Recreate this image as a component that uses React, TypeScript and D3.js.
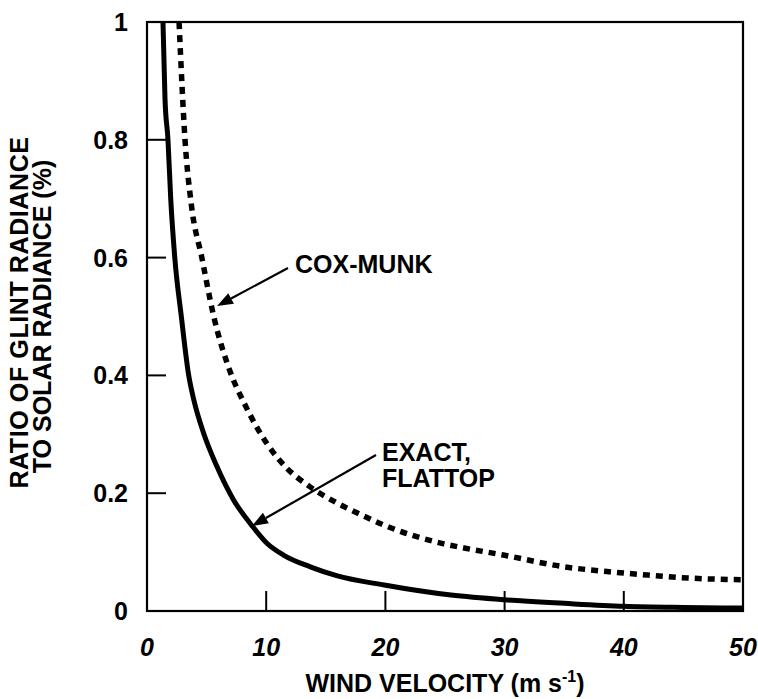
import React from "react";
import * as d3 from "d3";

// Wind velocity (m/s) and glint-to-solar radiance ratio (%) for the exact flattop model
const exactWind = [1.34, 1.51, 1.76, 1.99, 2.33, 2.88, 3.5, 3.92, 4.73, 5.85, 7.25, 8.8, 10.06, 11.45, 13.7, 15.9, 19.9, 25.5, 30, 35, 40, 45, 50];
const exactRatio = [1.0, 0.87, 0.8, 0.7, 0.6, 0.5, 0.4, 0.359, 0.303, 0.246, 0.189, 0.145, 0.115, 0.095, 0.075, 0.06, 0.044, 0.027, 0.019, 0.013, 0.008, 0.006, 0.005];

// Wind velocity (m/s) and ratio (%) for the Cox-Munk model
const coxWind = [2.69, 3.19, 3.72, 4.6, 5.6, 7.0, 8.2, 10.1, 11.7, 13.6, 15.7, 17.9, 20.1, 22.5, 24.9, 26.6, 29.9, 35, 38.6, 42, 45.4, 50];
const coxRatio = [1.0, 0.8, 0.69, 0.6, 0.5, 0.405, 0.351, 0.283, 0.243, 0.212, 0.186, 0.164, 0.144, 0.127, 0.114, 0.107, 0.095, 0.075, 0.067, 0.061, 0.056, 0.053];

const xTicks = [0, 10, 20, 30, 40, 50];
const yTicks = [0, 0.2, 0.4, 0.6, 0.8, 1];
const yTickLabels = ["0", "0.2", "0.4", "0.6", "0.8", "1"];

const W = 758;
const H = 699;
const left = 147;
const right = 743;
const top = 22;
const bottom = 611;
const FONT = "'Liberation Sans', Arial, Helvetica, sans-serif";

export default function App() {
  const x = d3.scaleLinear().domain([0, 50]).range([left, right]);
  const y = d3.scaleLinear().domain([0, 1]).range([bottom, top]);

  const line = d3
    .line<[number, number]>()
    .x((d) => x(d[0]))
    .y((d) => y(d[1]))
    .curve(d3.curveMonotoneX);

  const exactPts = exactWind.map((w, i) => [w, exactRatio[i]] as [number, number]);
  const coxPts = coxWind.map((w, i) => [w, coxRatio[i]] as [number, number]);

  const arrow = (x1: number, y1: number, x2: number, y2: number) => {
    const ang = Math.atan2(y2 - y1, x2 - x1);
    const len = 16;
    const half = 6;
    const bx = x2 - len * Math.cos(ang);
    const by = y2 - len * Math.sin(ang);
    const px = -Math.sin(ang) * half;
    const py = Math.cos(ang) * half;
    return (
      <g>
        <line x1={x1} y1={y1} x2={bx} y2={by} stroke="#000" strokeWidth={2.2} />
        <polygon points={`${x2},${y2} ${bx + px},${by + py} ${bx - px},${by - py}`} fill="#000" />
      </g>
    );
  };

  return (
    <svg
      width={W}
      height={H}
      style={{ position: "absolute", left: 0, top: 0, background: "#fff" }}
      fontFamily={FONT}
    >
      <defs>
        <clipPath id="plot">
          <rect x={left} y={top} width={right - left} height={bottom - top} />
        </clipPath>
      </defs>

      {/* frame */}
      <rect x={left} y={top} width={right - left} height={bottom - top} fill="none" stroke="#000" strokeWidth={2.2} />

      {/* y ticks */}
      {yTicks.map((t, i) => (
        <g key={"y" + i}>
          {t > 0 && t < 1 && <line x1={left} x2={left + 19} y1={y(t)} y2={y(t)} stroke="#000" strokeWidth={2} />}
          <text x={128} y={y(t) + 9} textAnchor="end" fontSize={25} fontWeight="bold">
            {yTickLabels[i]}
          </text>
        </g>
      ))}

      {/* x ticks */}
      {xTicks.map((t) => (
        <g key={"x" + t}>
          {t > 0 && t < 50 && <line x1={x(t)} x2={x(t)} y1={bottom} y2={bottom - 20} stroke="#000" strokeWidth={2} />}
          <text x={x(t)} y={656} textAnchor="middle" fontSize={25} fontWeight="bold" fontStyle="italic">
            {t}
          </text>
        </g>
      ))}

      {/* curves */}
      <g clipPath="url(#plot)">
        <path d={line(exactPts) ?? ""} fill="none" stroke="#000" strokeWidth={5} />
        <path d={line(coxPts) ?? ""} fill="none" stroke="#000" strokeWidth={5.5} strokeDasharray="7 6" />
      </g>

      {/* annotations */}
      {arrow(288, 268, 217, 306)}
      <text x={295} y={273} fontSize={25} fontWeight="bold">COX-MUNK</text>
      {arrow(376, 455, 252, 526)}
      <text x={382} y={461} fontSize={25} fontWeight="bold">EXACT,</text>
      <text x={382} y={487} fontSize={25} fontWeight="bold">FLATTOP</text>

      {/* axis titles */}
      <text x={(left + right) / 2} y={692} textAnchor="middle" fontSize={25} fontWeight="bold">
        WIND VELOCITY (m s<tspan fontSize={16} dy={-10}>-1</tspan><tspan dy={10}>)</tspan>
      </text>
      <g transform={`translate(28, ${(top + bottom) / 2 - 4}) rotate(-90)`}>
        <text x={0} y={0} textAnchor="middle" fontSize={25} fontWeight="bold" letterSpacing={0.6}>
          RATIO OF GLINT RADIANCE
        </text>
      </g>
      <g transform={`translate(51, ${(top + bottom) / 2}) rotate(-90)`}>
        <text x={0} y={0} textAnchor="middle" fontSize={25} fontWeight="bold">
          TO SOLAR RADIANCE (%)
        </text>
      </g>
    </svg>
  );
}
